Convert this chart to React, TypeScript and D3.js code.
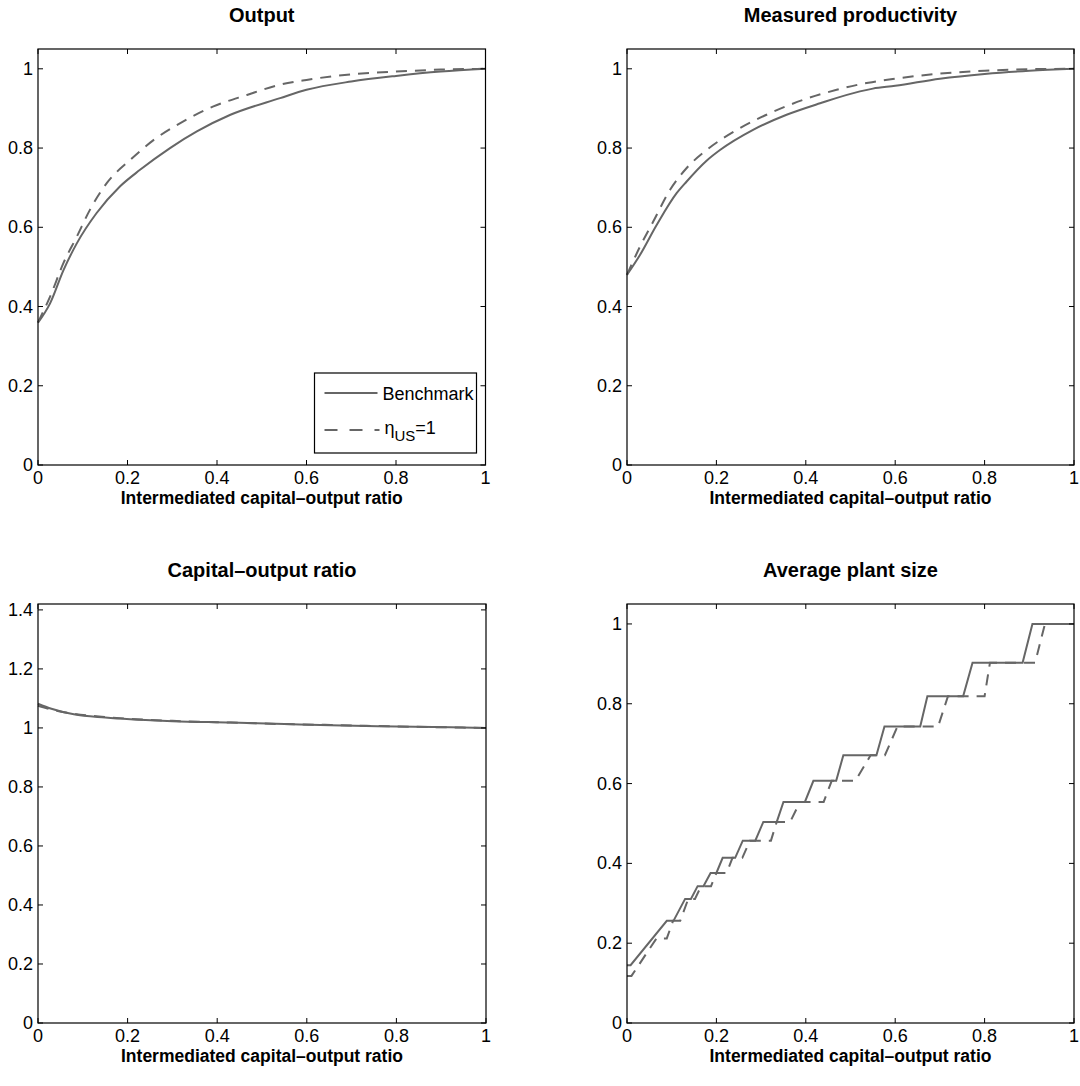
import * as d3 from 'd3';

const xTicks = [0, 0.2, 0.4, 0.6, 0.8, 1];
const yTicksUnit = [0, 0.2, 0.4, 0.6, 0.8, 1];
const yTicksCap = [0, 0.2, 0.4, 0.6, 0.8, 1, 1.2, 1.4];

// Output
const outBenchX = [0, 0.027, 0.057, 0.087, 0.131, 0.183, 0.228, 0.295, 0.355, 0.43, 0.541, 0.6, 0.7, 0.8, 0.9, 1];
const outBenchY = [0.359, 0.408, 0.492, 0.56, 0.636, 0.703, 0.745, 0.8, 0.842, 0.884, 0.926, 0.947, 0.968, 0.982, 0.993, 1.0];
const outEtaX = [0, 0.027, 0.057, 0.087, 0.116, 0.154, 0.206, 0.258, 0.318, 0.392, 0.467, 0.541, 0.6, 0.7, 0.8, 0.9, 1];
const outEtaY = [0.36, 0.425, 0.51, 0.577, 0.644, 0.712, 0.77, 0.82, 0.863, 0.905, 0.934, 0.96, 0.972, 0.986, 0.993, 0.998, 1.0];

// Measured productivity
const prodBenchX = [0, 0.029, 0.066, 0.111, 0.133, 0.178, 0.208, 0.282, 0.357, 0.432, 0.521, 0.55, 0.6, 0.7, 0.8, 0.9, 1];
const prodBenchY = [0.48, 0.53, 0.605, 0.686, 0.715, 0.768, 0.795, 0.846, 0.884, 0.913, 0.943, 0.95, 0.957, 0.975, 0.987, 0.995, 1.0];
const prodEtaX = [0, 0.029, 0.059, 0.096, 0.133, 0.178, 0.246, 0.32, 0.395, 0.469, 0.54, 0.6, 0.7, 0.8, 0.9, 1];
const prodEtaY = [0.48, 0.551, 0.615, 0.694, 0.749, 0.795, 0.846, 0.888, 0.922, 0.947, 0.965, 0.975, 0.988, 0.995, 0.999, 1.0];

// Capital-output ratio
const capX = [0, 0.03, 0.08, 0.15, 0.206, 0.3, 0.43, 0.55, 0.653, 0.8, 1];
const capBenchY = [1.082, 1.065, 1.046, 1.035, 1.029, 1.023, 1.018, 1.013, 1.009, 1.005, 1.0];
const capEtaY = [1.075, 1.062, 1.048, 1.037, 1.031, 1.024, 1.018, 1.013, 1.01, 1.005, 1.0];

// Average plant size (step-like)
const sizeBenchX = [0, 0.008, 0.089, 0.104, 0.13, 0.143, 0.158, 0.171, 0.187, 0.2, 0.214, 0.242, 0.259, 0.287, 0.305, 0.335, 0.35, 0.398, 0.417, 0.468, 0.484, 0.558, 0.576, 0.656, 0.672, 0.752, 0.773, 0.885, 0.907, 1];
const sizeBenchY = [0.145, 0.145, 0.256, 0.256, 0.311, 0.311, 0.343, 0.343, 0.376, 0.376, 0.414, 0.414, 0.457, 0.457, 0.504, 0.504, 0.554, 0.554, 0.607, 0.607, 0.671, 0.671, 0.743, 0.743, 0.819, 0.819, 0.903, 0.903, 1, 1];
const sizeEtaX = [0, 0.01, 0.066, 0.089, 0.103, 0.119, 0.137, 0.152, 0.166, 0.188, 0.2, 0.223, 0.236, 0.258, 0.275, 0.322, 0.335, 0.365, 0.387, 0.44, 0.458, 0.511, 0.545, 0.577, 0.605, 0.696, 0.718, 0.8, 0.812, 0.913, 0.935, 1];
const sizeEtaY = [0.118, 0.118, 0.212, 0.212, 0.256, 0.256, 0.311, 0.311, 0.343, 0.343, 0.376, 0.376, 0.414, 0.414, 0.457, 0.457, 0.504, 0.504, 0.554, 0.554, 0.607, 0.607, 0.671, 0.671, 0.743, 0.743, 0.819, 0.819, 0.903, 0.903, 1, 1];

const FONT = '"Liberation Sans", Arial, Helvetica, sans-serif';
const LINE = '#666666';
const DASH = '11,8';
const xLabel = 'Intermediated capital\u2013output ratio';

type Series = { xs: number[]; ys: number[]; dashed?: boolean };

function Panel({ left, right, top, bottom, title, yMax, yTicks, series, legend, steps }: {
  left: number; right: number; top: number; bottom: number; title: string;
  yMax: number; yTicks: number[]; series: Series[]; legend?: boolean; steps?: boolean;
}) {
  const x = d3.scaleLinear().domain([0, 1]).range([left, right]);
  const y = d3.scaleLinear().domain([0, yMax]).range([bottom, top]);
  const line = d3.line<[number, number]>().x(d => x(d[0])).y(d => y(d[1]))
    .curve(steps ? d3.curveLinear : d3.curveMonotoneX);
  const tl = 5;
  const cx = (left + right) / 2;
  return (
    <g>
      <text x={cx} y={top - 27} textAnchor="middle" fontSize={20} fontWeight="bold" fontFamily={FONT}>{title}</text>
      {series.map((s, i) => (
        <path key={i} d={line(s.xs.map((v, j) => [v, s.ys[j]] as [number, number])) || ''}
          fill="none" stroke={LINE} strokeWidth={2} strokeDasharray={s.dashed ? DASH : undefined} />
      ))}
      <rect x={left} y={top} width={right - left} height={bottom - top} fill="none" stroke="#000" strokeWidth={1.2} />
      {xTicks.map(t => (
        <g key={'x' + t}>
          <line x1={x(t)} x2={x(t)} y1={bottom} y2={bottom - tl} stroke="#000" />
          <line x1={x(t)} x2={x(t)} y1={top} y2={top + tl} stroke="#000" />
          <text x={x(t)} y={bottom + 19} textAnchor="middle" fontSize={18} fontFamily={FONT}>{String(t)}</text>
        </g>
      ))}
      {yTicks.map(t => (
        <g key={'y' + t}>
          <line x1={left} x2={left + tl} y1={y(t)} y2={y(t)} stroke="#000" />
          <line x1={right} x2={right - tl} y1={y(t)} y2={y(t)} stroke="#000" />
          <text x={left - 5} y={y(t) + 6} textAnchor="end" fontSize={18} fontFamily={FONT}>{String(t)}</text>
        </g>
      ))}
      <text x={cx} y={bottom + 39} textAnchor="middle" fontSize={17.5} fontWeight="bold" fontFamily={FONT}>{xLabel}</text>
      {legend && (
        <g>
          <rect x={right - 171} y={bottom - 92} width={162} height={80} fill="#fff" stroke="#000" strokeWidth={1.2} />
          <line x1={right - 161} x2={right - 108} y1={bottom - 72} y2={bottom - 72} stroke={LINE} strokeWidth={2} />
          <text x={right - 103} y={bottom - 65} fontSize={18} fontFamily={FONT}>Benchmark</text>
          <line x1={right - 161} x2={right - 106} y1={bottom - 35} y2={bottom - 35} stroke={LINE} strokeWidth={2} strokeDasharray="13,12" />
          <text x={right - 101} y={bottom - 31} fontSize={18} fontFamily={FONT}>
            {'\u03b7'}<tspan dy={7} fontSize={15}>US</tspan><tspan dy={-7}>=1</tspan>
          </text>
        </g>
      )}
    </g>
  );
}

export default function App() {
  return (
    <svg width={1080} height={1086} style={{ position: 'absolute', left: 0, top: 0, background: '#fff' }}>
      <rect width={1080} height={1086} fill="#fff" />
      <Panel left={38} right={485.5} top={49} bottom={465} title="Output" yMax={1.05} yTicks={yTicksUnit}
        series={[{ xs: outBenchX, ys: outBenchY }, { xs: outEtaX, ys: outEtaY, dashed: true }]} legend />
      <Panel left={627} right={1074} top={49} bottom={465} title="Measured productivity" yMax={1.05} yTicks={yTicksUnit}
        series={[{ xs: prodBenchX, ys: prodBenchY }, { xs: prodEtaX, ys: prodEtaY, dashed: true }]} />
      <Panel left={38} right={486} top={604} bottom={1023} title={'Capital\u2013output ratio'} yMax={1.42} yTicks={yTicksCap}
        series={[{ xs: capX, ys: capBenchY }, { xs: capX, ys: capEtaY, dashed: true }]} />
      <Panel left={627} right={1074} top={604} bottom={1023} title="Average plant size" yMax={1.05} yTicks={yTicksUnit} steps
        series={[{ xs: sizeBenchX, ys: sizeBenchY }, { xs: sizeEtaX, ys: sizeEtaY, dashed: true }]} />
    </svg>
  );
}
